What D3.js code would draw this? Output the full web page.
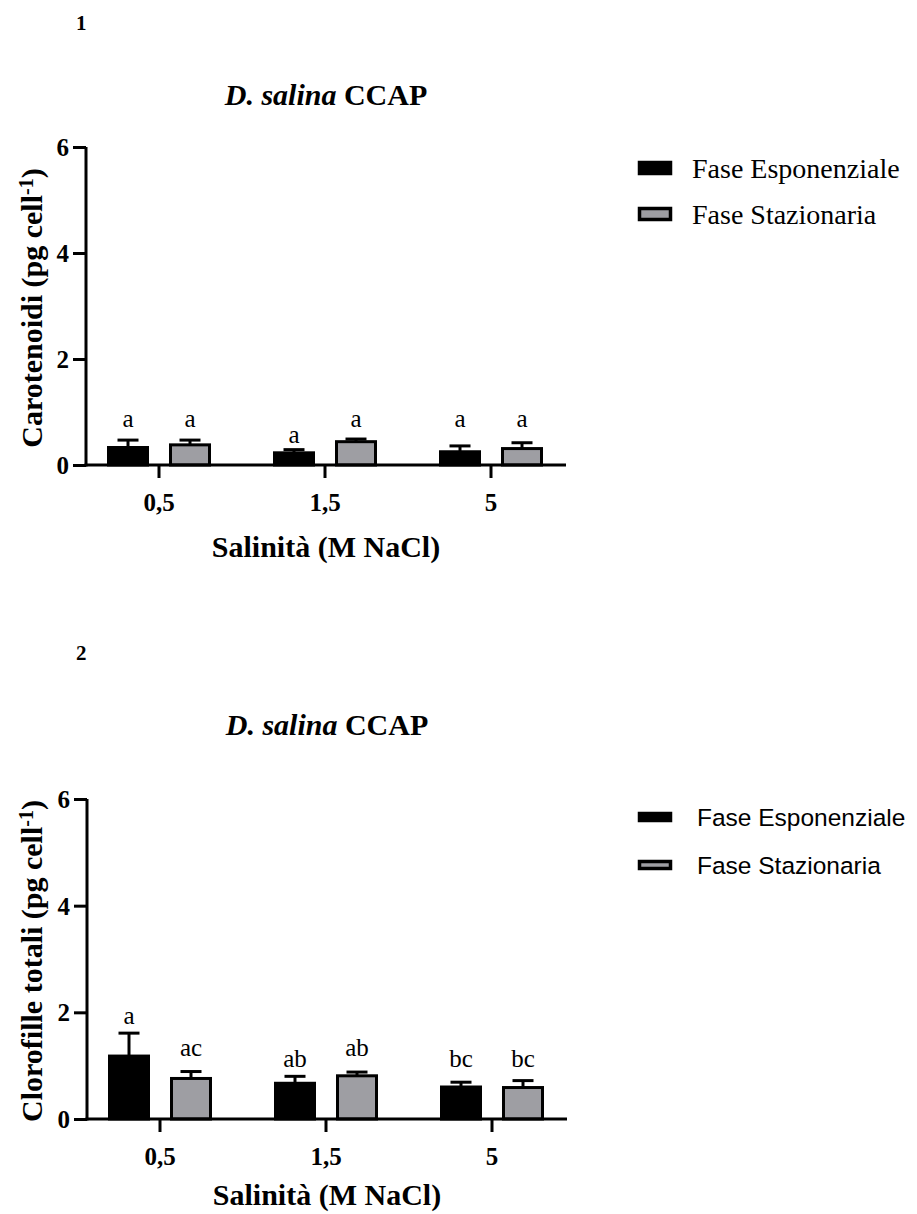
<!DOCTYPE html>
<html>
<head>
<meta charset="utf-8">
<script src="https://cdn.jsdelivr.net/npm/d3@7"></script>
<style>
  body { margin: 0; background: #fff; }
  svg { display: block; }
  text { fill: #000; }
</style>
</head>
<body>
<svg id="chart" width="917" height="1214"></svg>
<script>
// categories
const salinities = ['0,5', '1,5', '5'];
const phases = ['Fase Esponenziale', 'Fase Stazionaria'];
const yTicks = [0, 2, 4, 6];

// panel 1: carotenoids (pg cell-1)
const caroExp = [0.33, 0.23, 0.25];
const caroExpSd = [0.14, 0.06, 0.11];
const caroSta = [0.38, 0.44, 0.31];
const caroStaSd = [0.09, 0.05, 0.11];
const caroExpLetters = ['a', 'a', 'a'];
const caroStaLetters = ['a', 'a', 'a'];
const caroExpLetterAt = [0.72, 0.41, 0.72]; // letter baseline, in data units
const caroStaLetterAt = [0.72, 0.72, 0.72];

// panel 2: total chlorophylls (pg cell-1)
const chlExp = [1.18, 0.67, 0.60];
const chlExpSd = [0.43, 0.13, 0.09];
const chlSta = [0.76, 0.81, 0.59];
const chlStaSd = [0.13, 0.07, 0.13];
const chlExpLetters = ['a', 'ab', 'bc'];
const chlStaLetters = ['ac', 'ab', 'bc'];
const chlExpLetterAt = [1.79, 0.98, 0.98];
const chlStaLetterAt = [1.19, 1.19, 0.98];

const svg = d3.select('#chart');
const serif = 'Liberation Serif, Times New Roman, serif';
const sans = 'Liberation Sans, Arial, sans-serif';
const grey = '#9e9ea3';

function drawPanel(p) {
    const g = svg.append('g');

    const y = d3.scaleLinear().domain([0, 6]).range([p.bottom, p.top]);
    const x = d3.scaleBand().domain(salinities).range([p.left - 10, p.right + 8]);
    const x1 = d3.scaleBand().domain(phases).range([-52, 52]).paddingInner(20 / 62);

    // rows: one per bar
    const rows = [];
    salinities.forEach((s, i) => {
        rows.push({ s: s, phase: phases[0], v: p.exp[i], sd: p.expSd[i], letter: p.expLetters[i], at: p.expAt[i] });
        rows.push({ s: s, phase: phases[1], v: p.sta[i], sd: p.staSd[i], letter: p.staLetters[i], at: p.staAt[i] });
    });
    const cx = d => x(d.s) + x.bandwidth() / 2 + x1(d.phase) + x1.bandwidth() / 2;

    // error bars (upper only)
    const err = g.selectAll('g.err').data(rows).enter().append('g')
        .attr('stroke', '#000').attr('stroke-width', 3);
    err.append('line')
        .attr('x1', cx).attr('x2', cx)
        .attr('y1', d => y(d.v)).attr('y2', d => y(d.v + d.sd));
    err.append('line')
        .attr('x1', d => cx(d) - 10.5).attr('x2', d => cx(d) + 10.5)
        .attr('y1', d => y(d.v + d.sd)).attr('y2', d => y(d.v + d.sd));

    g.selectAll('rect.bar').data(rows).enter().append('rect')
        .attr('x', d => cx(d) - x1.bandwidth() / 2 + 1.5)
        .attr('width', x1.bandwidth() - 3)
        .attr('y', d => y(d.v))
        .attr('height', d => y(0) - y(d.v))
        .attr('fill', d => d.phase === phases[0] ? '#000' : grey)
        .attr('stroke', '#000')
        .attr('stroke-width', 3);

    g.selectAll('text.letter').data(rows).enter().append('text')
        .attr('x', cx)
        .attr('y', d => y(d.at))
        .attr('text-anchor', 'middle')
        .style('font-family', serif)
        .style('font-size', '25px')
        .text(d => d.letter);

    // y axis
    const yAxis = g.append('g')
        .attr('transform', 'translate(' + p.left + ',0)')
        .call(d3.axisLeft(y).tickValues(yTicks).tickFormat(d3.format('d'))
            .tickSize(13).tickSizeOuter(0).tickPadding(4));
    yAxis.selectAll('path, line').attr('stroke', '#000').attr('stroke-width', 3);
    yAxis.select('.domain').attr('d', 'M0,' + (y(0) + 1.5) + 'V' + y(6));
    yAxis.selectAll('text')
        .style('font-family', serif).style('font-size', '25px').style('font-weight', 'bold')
        .attr('dy', '0.34em');

    // x axis
    const xAxis = g.append('g')
        .attr('transform', 'translate(0,' + p.bottom + ')')
        .call(d3.axisBottom(x).tickSize(13).tickPadding(15));
    xAxis.select('.domain').attr('d', 'M' + (p.left - 1.5) + ',0H' + p.right);
    xAxis.selectAll('path, line').attr('stroke', '#000').attr('stroke-width', 3);
    xAxis.selectAll('text')
        .style('font-family', serif).style('font-size', '25px').style('font-weight', 'bold');

    // panel number and title
    g.append('text').attr('x', 76).attr('y', p.numY)
        .style('font-family', serif).style('font-size', '21px').style('font-weight', 'bold')
        .text(p.num);
    const title = g.append('text').attr('x', (p.left + p.right) / 2).attr('y', p.titleY)
        .attr('text-anchor', 'middle')
        .style('font-family', serif).style('font-size', '30px').style('font-weight', 'bold');
    title.append('tspan').style('font-style', 'italic').text('D. salina');
    title.append('tspan').text(' CCAP');

    // axis titles
    const yl = g.append('text')
        .attr('transform', 'translate(42,' + ((p.top + p.bottom) / 2 + 2) + ') rotate(-90)')
        .attr('text-anchor', 'middle')
        .style('font-family', serif).style('font-size', '30px').style('font-weight', 'bold');
    yl.append('tspan').text(p.yLabel + ' (pg cell');
    yl.append('tspan').attr('dy', '-0.45em').style('font-size', '20px').text('-1');
    yl.append('tspan').attr('dy', '0.3em').text(')');

    g.append('text').attr('x', (p.left + p.right) / 2).attr('y', p.bottom + p.xTitleGap)
        .attr('text-anchor', 'middle')
        .style('font-family', serif).style('font-size', '30px').style('font-weight', 'bold')
        .text('Salinità (M NaCl)');

    // legend
    const lg = g.append('g').attr('transform', 'translate(638,' + p.legendY + ')');
    const item = lg.selectAll('g').data(phases).enter().append('g')
        .attr('transform', (d, i) => 'translate(0,' + i * p.legendStep + ')');
    item.append('rect')
        .attr('x', 1.5).attr('y', -p.swatchH / 2)
        .attr('width', 31).attr('height', p.swatchH)
        .attr('fill', (d, i) => i === 0 ? '#000' : grey)
        .attr('stroke', '#000').attr('stroke-width', 3.5);
    item.append('text')
        .attr('x', p.legendTextX).attr('dy', '0.35em')
        .style('font-family', p.legendFont).style('font-size', p.legendSize)
        .text(d => d);
}

drawPanel({
    left: 86, right: 566, top: 147, bottom: 465,
    exp: caroExp, expSd: caroExpSd, sta: caroSta, staSd: caroStaSd,
    expLetters: caroExpLetters, staLetters: caroStaLetters,
    expAt: caroExpLetterAt, staAt: caroStaLetterAt,
    num: '1', numY: 30, titleY: 105, xTitleGap: 92,
    yLabel: 'Carotenoidi',
    legendY: 168, legendStep: 46, swatchH: 11, legendTextX: 54,
    legendFont: serif, legendSize: '28px'
});

drawPanel({
    left: 87, right: 567, top: 799, bottom: 1119,
    exp: chlExp, expSd: chlExpSd, sta: chlSta, staSd: chlStaSd,
    expLetters: chlExpLetters, staLetters: chlStaLetters,
    expAt: chlExpLetterAt, staAt: chlStaLetterAt,
    num: '2', numY: 660, titleY: 735, xTitleGap: 86,
    yLabel: 'Clorofille totali',
    legendY: 817, legendStep: 48, swatchH: 7, legendTextX: 59,
    legendFont: sans, legendSize: '24.5px'
});
</script>
</body>
</html>
